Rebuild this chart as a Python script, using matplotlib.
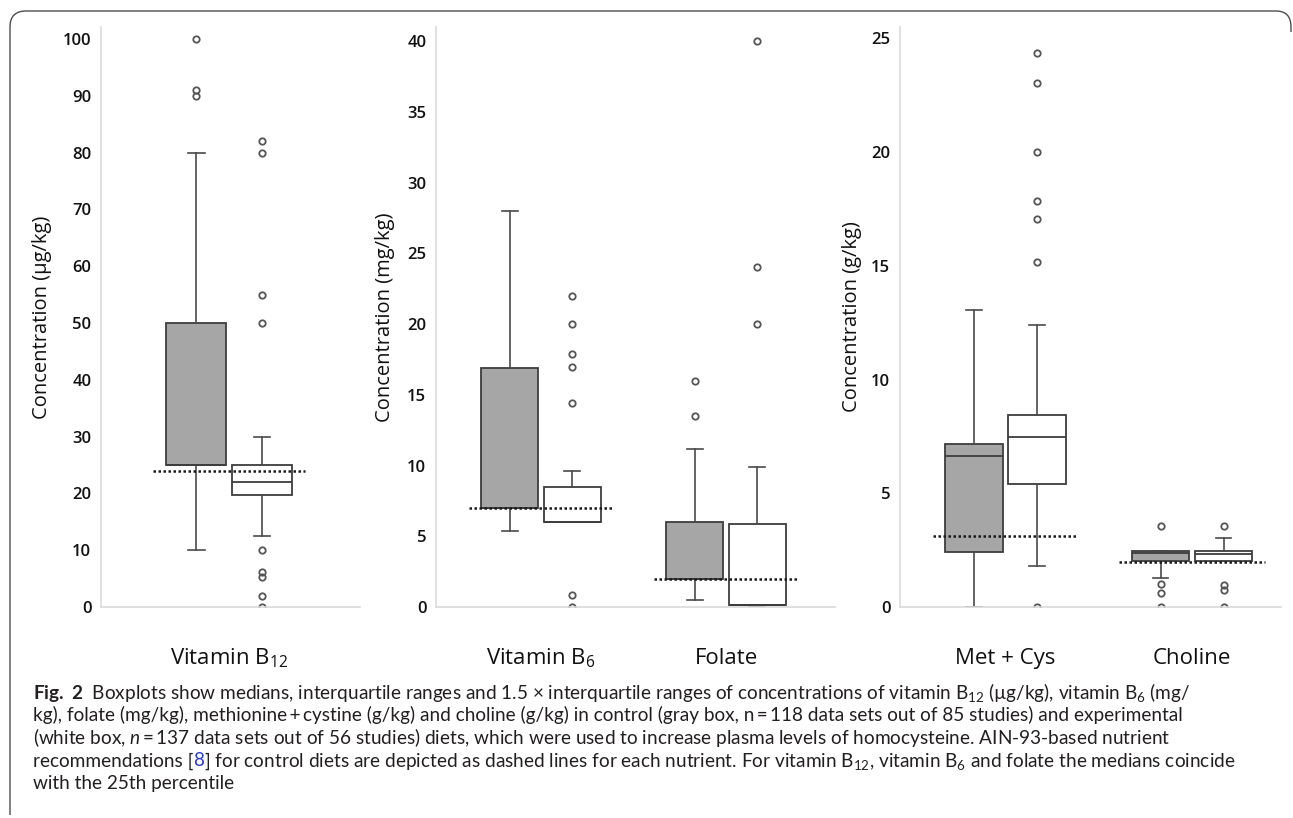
import matplotlib
matplotlib.use("Agg")
import matplotlib.pyplot as plt
from matplotlib.path import Path
from matplotlib.patches import PathPatch

W, H = 1293, 818
AX_FONT = ["Open Sans", "DejaVu Sans"]
CAP_FONT = ["Lato", "DejaVu Sans"]
plt.rcParams["font.family"] = AX_FONT
plt.rcParams["mathtext.default"] = "regular"
plt.rcParams["mathtext.fontset"] = "custom"
plt.rcParams["mathtext.rm"] = "Lato"
plt.rcParams["mathtext.it"] = "Lato:italic"
plt.rcParams["mathtext.bf"] = "Lato:bold"

# ---------------- data ----------------
cat_labels = ["Vitamin B$_{12}$", "Vitamin B$_6$", "Folate", "Met + Cys", "Choline"]
# control diets (gray boxes)
ctrl_q1 = [25, 7.0, 2.0, 2.44, 2.01]
ctrl_med = [25, 7.0, 2.0, 6.65, 2.36]
ctrl_q3 = [50, 16.9, 6.0, 7.17, 2.48]
ctrl_whislo = [10, 5.4, 0.5, 0.0, 1.29]
ctrl_whishi = [80, 28.0, 11.2, 13.05, 2.48]
ctrl_fliers = [[100, 91, 90], [], [16, 13.5], [], [3.55, 1.0, 0.62, 0]]
# experimental diets (white boxes)
exp_q1 = [19.7, 6.0, 0.15, 5.4, 2.01]
exp_med = [22, 6.0, 0.15, 7.48, 2.35]
exp_q3 = [25, 8.45, 5.85, 8.46, 2.48]
exp_whislo = [12.5, 6.0, 0.0, 1.79, 2.01]
exp_whishi = [30, 9.6, 9.9, 12.42, 3.02]
exp_fliers = [[82, 80, 55, 50, 10, 6.2, 5.2, 1.9, 0],
              [22, 20, 17.9, 17, 14.4, 0.85, 0],
              [40, 24, 20],
              [24.35, 23.05, 20, 17.85, 17.05, 15.15, 0],
              [3.55, 0.98, 0.76, 0]]
# AIN-93 recommendations (dashed lines)
recommended = [24, 7.0, 2.0, 3.1, 2.0]

panel_members = [[0], [1, 2], [3, 4]]
panel_yticks = [list(range(0, 101, 10)), list(range(0, 41, 5)), list(range(0, 26, 5))]
panel_ylabels = ["Concentration (µg/kg)", "Concentration (mg/kg)", "Concentration (g/kg)"]

caption_lines = [
    [(r"$\mathbf{Fig.\ 2}$  Boxplots show medians, interquartile ranges and 1.5 × interquartile ranges "
      r"of concentrations of vitamin B$_{12}$ (µg/kg), vitamin B$_6$ (mg/", "#231f20")],
    [("kg), folate (mg/kg), methionine\u2009+\u2009cystine (g/kg) and choline (g/kg) in control "
      "(gray box, n\u2009=\u2009118 data sets out of 85 studies) and experimental", "#231f20")],
    [(r"(white box, $\mathit{n}$" + "\u2009=\u2009137 data sets out of 56 studies) diets, which were used "
      "to increase plasma levels of homocysteine. AIN-93-based nutrient", "#231f20")],
    [("recommendations [", "#231f20"), ("8", "#2a3bd6"),
     (r"] for control diets are depicted as dashed lines for each nutrient. For vitamin B$_{12}$, "
      r"vitamin B$_6$ and folate the medians coincide", "#231f20")],
    [("with the 25th percentile", "#231f20")],
]

# ---------------- layout ----------------
panel_px = [(101, 360), (436, 835), (900, 1281)]
AX_TOP, AX_BOT = 27, 607
panel_xlim = [(0.340, 1.675), (0.432, 2.589), (0.434, 2.477)]
panel_ymax = [102.1, 41.0, 25.5]
ylabel_px = [42, 385, 852]
OFF = 0.169
BW = 0.31
CAPW = 0.085
DASH_HALF = 0.39
GRAY = "#a6a6a6"
EDGE = "#3d3d3d"
AXCOL = "#dadada"
TXT = "#111111"

fig = plt.figure(figsize=(W / 100, H / 100), dpi=100)
fig.patch.set_facecolor("white")

for p, members in enumerate(panel_members):
    x0, x1 = panel_px[p]
    ax = fig.add_axes([x0 / W, 1 - AX_BOT / H, (x1 - x0) / W, (AX_BOT - AX_TOP) / H])
    pos = list(range(1, len(members) + 1))
    st_c = [dict(med=ctrl_med[i], q1=ctrl_q1[i], q3=ctrl_q3[i], whislo=ctrl_whislo[i],
                 whishi=ctrl_whishi[i], fliers=ctrl_fliers[i]) for i in members]
    st_e = [dict(med=exp_med[i], q1=exp_q1[i], q3=exp_q3[i], whislo=exp_whislo[i],
                 whishi=exp_whishi[i], fliers=exp_fliers[i]) for i in members]
    common = dict(widths=BW, patch_artist=True, manage_ticks=False, capwidths=CAPW,
                  medianprops=dict(color=EDGE, linewidth=1.3),
                  whiskerprops=dict(color="#4a4a4a", linewidth=1.2),
                  capprops=dict(color="#4a4a4a", linewidth=1.2),
                  flierprops=dict(marker="o", markersize=4.6, markerfacecolor="none",
                                  markeredgecolor="#555555", markeredgewidth=1.3))
    ax.bxp(st_c, positions=[q - OFF for q in pos],
           boxprops=dict(facecolor=GRAY, edgecolor=EDGE, linewidth=1.3), **common)
    ax.bxp(st_e, positions=[q + OFF for q in pos],
           boxprops=dict(facecolor="white", edgecolor=EDGE, linewidth=1.3), **common)
    ax.hlines([recommended[i] for i in members], [q - DASH_HALF for q in pos],
              [q + DASH_HALF for q in pos], colors="#1a1a1a", linestyles=(0, (1.0, 1.0)),
              linewidth=1.8, zorder=6)
    ax.set_xlim(*panel_xlim[p])
    ax.set_ylim(0, panel_ymax[p])
    ax.set_yticks(panel_yticks[p])
    ax.set_xticks([])
    ax.tick_params(axis="y", length=0, labelsize=12, pad=7, labelcolor=TXT)
    for lab in ax.get_yticklabels():
        lab.set_fontweight("semibold")
    for s in ("top", "right"):
        ax.spines[s].set_visible(False)
    for s in ("left", "bottom"):
        ax.spines[s].set_color(AXCOL)
        ax.spines[s].set_linewidth(1.2)
    ax.set_ylabel(panel_ylabels[p], fontsize=14.5, color=TXT, va="center")
    ax.yaxis.set_label_coords((ylabel_px[p] - x0) / (x1 - x0), 0.5)
    for q, i in zip(pos, members):
        ax.text(q, -(664 - AX_BOT) / (AX_BOT - AX_TOP), cat_labels[i],
                transform=ax.get_xaxis_transform(), ha="center", va="baseline",
                fontsize=16, color=TXT)

# ---------------- caption ----------------
renderer = fig.canvas.get_renderer()
CAP_X = 33
cap_baselines = [699, 721.5, 744, 766.5, 789]
probe = fig.text(0, 0, caption_lines[0][0][0], fontsize=12.5, family=CAP_FONT)
w1 = probe.get_window_extent(renderer).width
probe.remove()
cap_size = 12.5 * 1163 / w1

for yb, runs in zip(cap_baselines, caption_lines):
    x = CAP_X
    for s, col in runs:
        t = fig.text(x / W, 1 - yb / H, s, fontsize=cap_size, color=col, ha="left",
                     va="baseline", family=CAP_FONT)
        x += t.get_window_extent(renderer).width

# ---------------- frame ----------------
def fp(x, y):
    return (x / W, 1 - y / H)

verts = [fp(10, 815), fp(10, 27), fp(10, 11), fp(26, 11), fp(1276, 11), fp(1291, 11), fp(1291, 27),
         fp(1291, 32)]
codes = [Path.MOVETO, Path.LINETO, Path.CURVE3, Path.CURVE3, Path.LINETO, Path.CURVE3, Path.CURVE3,
         Path.LINETO]
fig.add_artist(PathPatch(Path(verts, codes), transform=fig.transFigure, facecolor="none",
                         edgecolor="#4d4d4d", linewidth=1.0))

fig.savefig("out.png", dpi=100, facecolor="white")
